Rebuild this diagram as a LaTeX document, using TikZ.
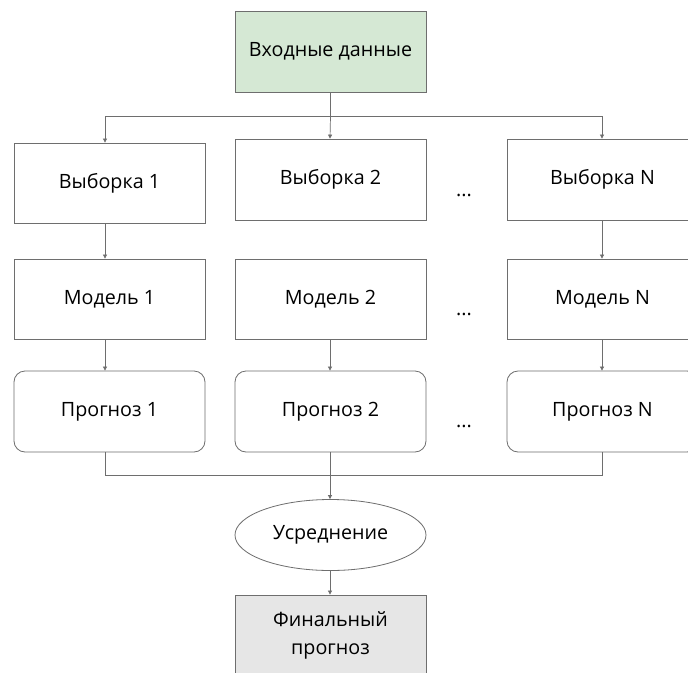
\documentclass[tikz,border=0pt]{standalone}
\usepackage{fontspec}
\setmainfont{Open Sans}
\usetikzlibrary{arrows.meta,shapes.geometric,calc}
\definecolor{linec}{HTML}{6E6E6E}
\definecolor{greenf}{HTML}{D5E8D4}
\definecolor{grayf}{HTML}{E6E6E6}
\begin{document}
\begin{tikzpicture}[x=1pt,y=-1pt,
  box/.style={draw=linec,line width=0.8pt,minimum width=191pt,minimum height=80pt,inner sep=0pt,font=\fontsize{19.7}{28}\selectfont,align=center},
  rbox/.style={box,rounded corners=11pt},
  conn/.style={draw=linec,line width=0.7pt},
  arr/.style={conn,-{Triangle[width=4pt,length=4pt]}},
  dots/.style={font=\fontsize{19.7}{22}\selectfont,inner sep=0pt}]
\useasboundingbox (0,0) rectangle (688,672);
\fill[white] (0,0) rectangle (688,672);
\node[box,fill=greenf,minimum height=81pt] (in) at (330.5,51.5) {Входные данные};
\node[box] (s1) at (109.5,183) {Выборка 1};
\node[box,minimum height=81pt] (s2) at (330.5,179.5) {Выборка 2};
\node[box,minimum height=81pt] (sN) at (602.5,179.5) {Выборка N};
\node[box] (m1) at (109.5,299) {Модель 1};
\node[box] (m2) at (330.5,299) {Модель 2};
\node[box] (mN) at (602.5,299) {Модель N};
\node[rbox,minimum height=81pt] (p1) at (109.5,411.5) {Прогноз 1};
\node[rbox,minimum height=81pt] (p2) at (330.5,411.5) {Прогноз 2};
\node[rbox,minimum height=81pt] (pN) at (602.5,411.5) {Прогноз N};
\node[dots] (d1) at (464,195) {...};
\node[dots] (d2) at (464,314) {...};
\node[dots] (d3) at (464,426) {...};
\node[draw=linec,line width=0.8pt,ellipse,minimum width=191pt,minimum height=71pt,inner sep=0pt,font=\fontsize{19.7}{22}\selectfont] (avg) at (330.5,535) {Усреднение};
\node[box,fill=grayf,minimum height=81pt] (fin) at (330.5,635.5) {Финальный\\прогноз};
% top branching
\coordinate (br) at ($(in.south)+(0,24)$);
\draw[conn] (in.south) -- (br);
\draw[arr] (br) -| ([xshift=-4.5pt]s1.north);
\draw[arr] (br) -| ([xshift=-0.5pt]sN.north);
\draw[arr] (br) -- ([xshift=-0.5pt]s2.north);
% verticals
\draw[arr] ([xshift=-4.5pt]s1.south) -- ([xshift=-4.5pt]m1.north);
\draw[arr] ([xshift=-0.5pt]sN.south) -- ([xshift=-0.5pt]mN.north);
\draw[arr] ([xshift=-4.5pt]m1.south) -- ([xshift=-4.5pt]p1.north);
\draw[arr] ([xshift=-0.5pt]m2.south) -- ([xshift=-0.5pt]p2.north);
\draw[arr] ([xshift=-0.5pt]mN.south) -- ([xshift=-0.5pt]pN.north);
% merge
\coordinate (mg) at ($(p2.south)+(-0.5,23)$);
\draw[conn] ([xshift=-4.5pt]p1.south) |- (mg);
\draw[conn] ([xshift=-0.5pt]pN.south) |- (mg);
\draw[arr] ([xshift=-0.5pt]p2.south) -- ([xshift=-0.5pt]avg.north);
\draw[arr] ([xshift=-0.5pt]avg.south) -- ([xshift=-0.5pt]fin.north);
\end{tikzpicture}
\end{document}
